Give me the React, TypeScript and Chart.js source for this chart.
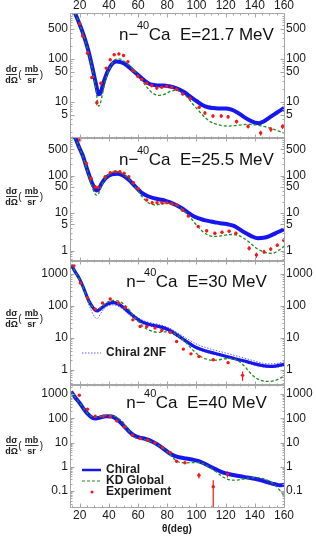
import React, { useEffect, useRef } from "react";
import { Chart, registerables } from "chart.js";

Chart.register(...registerables);

const CANVAS_W = 316;
const CANVAS_H = 539;
const PLOT_LEFT = 71;
const PLOT_RIGHT = 284;
const X_MIN = 14;
const X_MAX = 160;
const X_TICK_LABELS = [20, 40, 60, 80, 100, 120, 140, 160];
const X_TITLE = "θ(deg)";
const FONT = "'Liberation Sans', Arial, Helvetica, sans-serif";

const BLUE = "rgb(22,22,240)";
const BAND_BLUE = "rgb(95,95,255)";
const GREEN = "rgb(34,140,34)";
const RED = "rgb(255,20,20)";
const FRAME = "#a6a6a6";
const TEXT = "#1a1a1a";

// ---------- Panel 1 : E = 21.7 MeV ----------
const p1Energy = "21.7";
const p1YTicks = [5, 10, 50, 100, 500];
const p1ChiralAngle = [14, 15, 17, 20, 23, 26, 29, 31, 33, 34.5, 36, 39, 42, 45, 48, 52, 56, 60, 64, 68, 72, 76, 80, 84, 88, 92, 96, 100, 104, 108, 112, 116, 120, 124, 128, 132, 136, 140, 143, 146, 150, 155, 160];
const p1ChiralValue = [1900, 1500, 1100, 620, 330, 150, 55, 27, 15, 17, 26, 50, 75, 87, 84, 72, 55, 42, 32, 26, 24.5, 24, 23.5, 22, 19.5, 16.5, 13, 10.5, 8.5, 7.5, 7.2, 7.0, 7.0, 6.6, 5.7, 4.6, 3.8, 3.3, 3.2, 3.5, 4.3, 5.6, 7.2];
const p1KdAngle = [14, 15, 17, 20, 23, 26, 29, 31, 33, 34, 35.5, 38, 41, 44, 47, 50, 54, 58, 62, 66, 70, 74, 78, 82, 86, 90, 94, 98, 102, 106, 110, 114, 118, 122, 126, 130, 134, 138, 142, 146, 150, 154, 158, 160];
const p1KdValue = [1900, 1500, 1100, 620, 320, 140, 48, 20, 8, 9, 15, 35, 65, 95, 100, 90, 70, 50, 34, 22, 16, 14.2, 15, 17.5, 18.5, 16.5, 12.5, 8.5, 6.0, 4.3, 3.4, 3.0, 2.8, 2.75, 2.8, 2.9, 3.0, 3.0, 2.85, 2.7, 2.5, 2.25, 2.0, 1.9];
const p1ExpAngle = [20, 22, 25.3, 28.3, 31.7, 34.5, 38.1, 40.9, 43.6, 46.8, 50, 53, 56.4, 59.8, 62.4, 65.9, 69.3, 72.8, 76.2, 79.6, 83, 86.4, 90.5, 95.5, 101.9, 105.8, 111.3, 117, 121.7, 127.5, 135.4, 144, 151, 159];
const p1ExpValue = [650, 340, 135, 37, 9.6, 27, 61, 95, 124, 130, 120, 86, 53, 39, 33, 27, 24, 21, 22, 23, 22, 19.7, 15.3, 12.2, 7.5, 5.5, 4.7, 4.7, 4.5, 3.5, 2.7, 1.9, 2.3, 2.7];
const p1ExpError = [40, 25, 10, 3, 1.2, 2.5, 4, 6, 8, 8, 8, 6, 4, 3, 2.5, 2, 2, 1.6, 1.6, 1.7, 1.6, 1.5, 1.2, 1, 0.7, 0.5, 0.45, 0.45, 0.45, 0.35, 0.3, 0.25, 0.3, 0.35];

// ---------- Panel 2 : E = 25.5 MeV ----------
const p2Energy = "25.5";
const p2YTicks = [1, 5, 10, 50, 100, 500];
const p2ChiralAngle = [14, 15, 17, 20, 22, 24, 26, 28, 30, 31.5, 33, 35, 38, 42, 46, 50, 54, 58, 62, 66, 70, 74, 78, 82, 86, 90, 94, 98, 102, 106, 110, 114, 118, 122, 126, 130, 134, 138, 142, 146, 150, 154, 158, 160];
const p2ChiralValue = [1900, 1400, 1000, 520, 350, 200, 116, 70, 48, 40, 44, 62, 88, 108, 112, 100, 75, 52, 36, 29, 25.5, 23.5, 22, 19.5, 16.5, 13.5, 10.5, 8.3, 7.2, 6.4, 6.0, 5.6, 5.3, 5.0, 4.5, 3.6, 2.9, 2.4, 2.15, 2.2, 2.45, 2.9, 3.4, 3.7];
const p2KdAngle = [14, 15, 17, 20, 22, 24, 26, 28, 30, 31.5, 33, 35, 38, 41, 44, 47, 50, 54, 58, 62, 65, 68, 72, 76, 80, 84, 88, 92, 96, 100, 104, 108, 112, 116, 120, 124, 128, 132, 136, 140, 144, 148, 152, 156, 160];
const p2KdValue = [1900, 1400, 1000, 520, 340, 190, 105, 58, 35, 30, 34, 55, 88, 115, 128, 125, 108, 78, 50, 30, 22, 18, 16.5, 17.5, 18.4, 17.5, 15, 11, 7.5, 4.8, 3.3, 2.6, 2.4, 2.45, 2.6, 2.7, 2.6, 2.2, 1.7, 1.25, 1.0, 0.88, 0.85, 1.0, 1.3];
const p2ExpAngle = [20, 24.5, 27.7, 30.6, 32.5, 37.4, 40.9, 44.3, 47.5, 50.4, 53.6, 56.8, 60, 65.9, 69.6, 73, 76.3, 79.6, 83, 86.4, 90.5, 94.4, 101.2, 107, 112.6, 117.5, 122.4, 127, 136.1, 141.1, 146.3, 150.9, 155.4, 159.8];
const p2ExpValue = [900, 214, 85, 50, 48, 94, 120, 128, 128, 116, 94, 65, 45, 22.5, 19, 19, 19, 19, 18, 16.6, 12, 8.4, 4.4, 3.4, 2.9, 3.1, 3.3, 2.9, 1.16, 0.77, 0.93, 1.1, 1.4, 1.9];
const p2ExpError = [50, 12, 8, 6, 6, 6, 7, 7, 7, 7, 6, 4, 3, 1.5, 1.2, 1.2, 1.2, 1.2, 1.2, 1.1, 0.8, 0.6, 0.4, 0.35, 0.3, 0.3, 0.3, 0.3, 0.15, 0.12, 0.12, 0.13, 0.15, 0.2];

// ---------- Panel 3 : E = 30 MeV ----------
const p3Energy = "30";
const p3YTicks = [1, 10, 100, 1000];
const p3ChiralAngle = [14, 17, 20, 23, 25.3, 28, 30.5, 32, 34, 37, 40, 43, 46, 50, 54, 58, 62, 66, 70, 74, 78, 82, 86, 90, 94, 98, 102, 106, 110, 115, 120, 125, 130, 135, 140, 145, 150, 155, 160];
const p3ChiralValue = [1950, 1150, 680, 330, 180, 105, 75, 70, 80, 102, 120, 128, 118, 90, 62, 44, 33, 28, 25, 23, 20.5, 17, 13, 9.8, 7.3, 5.6, 4.6, 4.0, 3.55, 3.1, 2.7, 2.35, 2.05, 1.8, 1.55, 1.38, 1.3, 1.35, 1.5];
const p3Chiral2nfUpper = [2100, 1250, 720, 360, 200, 120, 85, 80, 90, 112, 130, 138, 128, 98, 70, 50, 38, 32, 29, 26.5, 23.5, 20, 15.5, 12, 9.2, 7.2, 5.9, 5.1, 4.5, 3.9, 3.4, 2.95, 2.55, 2.2, 1.9, 1.65, 1.55, 1.6, 1.8];
const p3Chiral2nfLower = [1800, 1050, 600, 280, 140, 70, 44, 40, 55, 85, 104, 108, 100, 76, 52, 38, 29, 25, 22.5, 20.5, 18, 15, 11.5, 8.6, 6.5, 5.1, 4.2, 3.65, 3.25, 2.85, 2.5, 2.2, 1.9, 1.65, 1.42, 1.27, 1.2, 1.22, 1.35];
const p3KdAngle = [14, 17, 20, 23, 25.3, 28, 30.5, 32, 34, 37, 40, 43, 46, 49, 52, 55, 58, 61, 64, 67, 70, 74, 78, 82, 86, 90, 94, 98, 102, 106, 110, 114, 118, 122, 126, 130, 133, 136, 139, 142, 146, 150, 154, 157, 160];
const p3KdValue = [2000, 1150, 640, 320, 175, 105, 80, 78, 88, 115, 140, 150, 145, 125, 95, 65, 43, 30, 22, 18, 16, 15, 15.5, 15.5, 13, 9.5, 6.3, 4.0, 2.8, 2.25, 2.05, 2.05, 2.2, 2.3, 2.2, 1.75, 1.3, 0.9, 0.65, 0.52, 0.45, 0.44, 0.47, 0.54, 0.65];
const p3ExpAngle = [16, 20.4, 25.3, 30.6, 35.6, 40.9, 46.6, 51.1, 56.4, 61.4, 65.9, 71.6, 76.2, 81.9, 86.4, 91, 96.2, 101.7, 111.5, 121.7, 131.6];
const p3ExpValue = [1800, 520, 180, 80, 124, 166, 124, 90, 37, 23, 23, 20.5, 17.3, 15, 7.8, 4.5, 3.2, 2.65, 2.1, 1.7, 0.68];
const p3ExpError = [90, 25, 10, 5, 7, 9, 7, 5, 2.5, 1.5, 1.5, 1.3, 1.1, 1, 0.6, 0.35, 0.25, 0.2, 0.18, 0.15, 0.22];

// ---------- Panel 4 : E = 40 MeV ----------
const p4Energy = "40";
const p4YTicks = [0.1, 1, 10, 100, 1000];
const p4ChiralAngle = [14, 17, 20, 23, 26, 28.5, 31, 34, 38, 42, 46, 50, 54, 57, 61, 65, 69, 73, 77, 81, 85, 89, 93, 97, 101, 105, 109, 113, 117, 121, 125, 130, 135, 140, 145, 150, 154, 157, 160];
const p4ChiralValue = [1250, 700, 420, 230, 140, 105, 98, 108, 120, 118, 85, 50, 28, 20, 16, 14, 11.5, 8.5, 5.8, 3.8, 2.8, 2.4, 2.2, 2.0, 1.75, 1.4, 1.05, 0.8, 0.62, 0.52, 0.46, 0.41, 0.36, 0.32, 0.27, 0.22, 0.19, 0.175, 0.18];
const p4KdAngle = [14, 17, 20, 23, 26, 28.5, 31, 34, 38, 42, 46, 50, 53, 56, 59, 63, 67, 71, 75, 79, 83, 86, 89, 93, 97, 101, 105, 109, 113, 117, 121, 125, 129, 133, 137, 141, 145, 149, 153, 157, 160];
const p4KdValue = [1250, 700, 430, 240, 150, 115, 110, 118, 128, 130, 105, 65, 35, 20, 15, 13.5, 12, 9.5, 7, 4.8, 2.7, 1.8, 1.5, 1.45, 1.5, 1.5, 1.3, 0.95, 0.65, 0.42, 0.31, 0.28, 0.29, 0.32, 0.35, 0.36, 0.33, 0.27, 0.19, 0.11, 0.065];
const p4ExpAngle = [19.7, 25.3, 30.6, 36, 40.9, 45.4, 50.6, 56.1, 61.4, 66.6, 71.6, 76.8, 81.9, 86.4, 92.1, 101.7, 111.5, 121.3];
const p4ExpValue = [890, 235, 122, 122, 115, 78, 44, 20, 14.7, 12.5, 9.7, 6.3, 3.9, 1.7, 1.46, 0.45, 0.15, 0.5];
const p4ExpError = [45, 12, 7, 7, 7, 5, 3, 1.4, 1, 0.9, 0.7, 0.45, 0.3, 0.15, 0.12, 0.12, 0.13, 0.14];

const LEGEND_CHIRAL = "Chiral";
const LEGEND_KD = "KD Global";
const LEGEND_EXP = "Experiment";
const LEGEND_2NF = "Chiral 2NF";

type Panel = {
  energy: string;
  top: number;
  bottom: number;
  yMin: number;
  yMax: number;
  yTicks: number[];
  chiral: [number[], number[]];
  kd: [number[], number[]];
  exp: [number[], number[], number[]];
  band?: [number[], number[], number[]];
  titleBaseline: number;
  fracY: number;
  topLabels: boolean;
  bottomLabels: boolean;
  legend: "none" | "band" | "main";
};

const PANELS: Panel[] = [
  {
    energy: p1Energy, top: 14, bottom: 138, yMin: 1.45, yMax: 1100, yTicks: p1YTicks,
    chiral: [p1ChiralAngle, p1ChiralValue], kd: [p1KdAngle, p1KdValue],
    exp: [p1ExpAngle, p1ExpValue, p1ExpError],
    titleBaseline: 40, fracY: 74, topLabels: true, bottomLabels: false, legend: "none",
  },
  {
    energy: p2Energy, top: 138, bottom: 261, yMin: 0.53, yMax: 1010, yTicks: p2YTicks,
    chiral: [p2ChiralAngle, p2ChiralValue], kd: [p2KdAngle, p2KdValue],
    exp: [p2ExpAngle, p2ExpValue, p2ExpError],
    titleBaseline: 165, fracY: 196, topLabels: false, bottomLabels: false, legend: "none",
  },
  {
    energy: p3Energy, top: 261, bottom: 385, yMin: 0.34, yMax: 2550, yTicks: p3YTicks,
    chiral: [p3ChiralAngle, p3ChiralValue], kd: [p3KdAngle, p3KdValue],
    exp: [p3ExpAngle, p3ExpValue, p3ExpError],
    band: [p3ChiralAngle, p3Chiral2nfUpper, p3Chiral2nfLower],
    titleBaseline: 287, fracY: 318, topLabels: false, bottomLabels: false, legend: "band",
  },
  {
    energy: p4Energy, top: 385, bottom: 507, yMin: 0.022, yMax: 2350, yTicks: p4YTicks,
    chiral: [p4ChiralAngle, p4ChiralValue], kd: [p4KdAngle, p4KdValue],
    exp: [p4ExpAngle, p4ExpValue, p4ExpError],
    titleBaseline: 408, fracY: 445, topLabels: false, bottomLabels: true, legend: "main",
  },
];

function toPoints(xs: number[], ys: number[]) {
  return xs.map((x, i) => ({ x, y: ys[i] }));
}

function fmt(v: number) {
  return v < 1 ? String(v) : String(Math.round(v));
}

function drawFraction(ctx: CanvasRenderingContext2D, cy: number) {
  ctx.save();
  ctx.fillStyle = TEXT;
  ctx.strokeStyle = TEXT;
  ctx.textAlign = "center";
  ctx.textBaseline = "alphabetic";
  ctx.font = `bold 9px ${FONT}`;
  ctx.fillText("dσ", 11.5, cy - 2);
  ctx.fillText("dΩ", 11.5, cy + 8.5);
  ctx.fillText("mb", 31.5, cy - 2);
  ctx.fillText("sr", 31.5, cy + 8.5);
  ctx.lineWidth = 0.9;
  ctx.beginPath();
  ctx.moveTo(6, cy + 0.5);
  ctx.lineTo(17, cy + 0.5);
  ctx.moveTo(25, cy + 0.5);
  ctx.lineTo(38.5, cy + 0.5);
  ctx.stroke();
  ctx.font = `10px ${FONT}`;
  ctx.fillText("(", 20, cy + 3.5);
  ctx.fillText(")", 41.5, cy + 3.5);
  ctx.restore();
}

function drawTitle(ctx: CanvasRenderingContext2D, energy: string, baseline: number) {
  const big = `17px ${FONT}`;
  const sup = `11px ${FONT}`;
  const a = "n\u2212";
  const s = "40";
  const b = `Ca  E=${energy} MeV`;
  ctx.save();
  ctx.fillStyle = "#111";
  ctx.textAlign = "left";
  ctx.textBaseline = "alphabetic";
  ctx.font = big;
  const wa = ctx.measureText(a).width - 1.5;
  const wb = ctx.measureText(b).width;
  ctx.font = sup;
  const ws = ctx.measureText(s).width - 0.5;
  const total = wa + ws + wb;
  let x = 196.5 - total / 2;
  ctx.font = big;
  ctx.fillText(a, x, baseline);
  x += wa;
  ctx.font = sup;
  ctx.fillText(s, x, baseline - 11);
  x += ws;
  ctx.font = big;
  ctx.fillText(b, x, baseline);
  ctx.restore();
}

function makeDeco(p: Panel) {
  return {
    id: "panelDeco",
    beforeDatasetsDraw(chart: any) {
      const { ctx, chartArea: a, scales } = chart;
      const xs = scales.x;
      const ys = scales.y;
      ctx.save();
      ctx.beginPath();
      ctx.rect(a.left, a.top, a.right - a.left, a.bottom - a.top);
      ctx.clip();
      ctx.strokeStyle = RED;
      ctx.lineWidth = 1.2;
      const [ang, val, err] = p.exp;
      ctx.beginPath();
      for (let i = 0; i < ang.length; i++) {
        const x = xs.getPixelForValue(ang[i]);
        const lo = Math.max(val[i] - err[i], p.yMin * 0.5);
        const y1 = ys.getPixelForValue(lo);
        const y2 = ys.getPixelForValue(val[i] + err[i]);
        ctx.moveTo(x, y1);
        ctx.lineTo(x, y2);
      }
      ctx.stroke();
      ctx.restore();
    },
    afterDraw(chart: any) {
      const { ctx, chartArea: a, scales } = chart;
      const xs = scales.x;
      const ys = scales.y;
      ctx.save();
      // frame
      ctx.strokeStyle = FRAME;
      ctx.lineWidth = 1;
      const L = a.left - 0.5, R = a.right + 0.5, T = a.top - 0.5, B = a.bottom + 0.5;
      ctx.beginPath();
      ctx.rect(L, T, R - L, B - T);
      ctx.stroke();
      // x ticks
      ctx.beginPath();
      for (let v = 15; v <= X_MAX; v += 5) {
        const px = Math.round(xs.getPixelForValue(v)) + 0.5;
        const len = v % 20 === 0 ? 4 : 2;
        ctx.moveTo(px, T);
        ctx.lineTo(px, T + len);
        ctx.moveTo(px, B);
        ctx.lineTo(px, B - len);
      }
      // y ticks
      const e0 = Math.floor(Math.log10(p.yMin));
      const e1 = Math.ceil(Math.log10(p.yMax));
      for (let e = e0; e <= e1; e++) {
        for (let d = 1; d <= 9; d++) {
          const v = d * Math.pow(10, e);
          if (v < p.yMin || v > p.yMax) continue;
          const major = p.yTicks.some((t) => Math.abs(t - v) / v < 1e-6);
          const len = major ? 4 : 2;
          const py = Math.round(ys.getPixelForValue(v)) + 0.5;
          ctx.moveTo(L, py);
          ctx.lineTo(L + len, py);
          ctx.moveTo(R, py);
          ctx.lineTo(R - len, py);
        }
      }
      ctx.stroke();

      // tick labels
      ctx.fillStyle = TEXT;
      ctx.font = `12px ${FONT}`;
      ctx.textBaseline = "middle";
      for (const t of p.yTicks) {
        const py = ys.getPixelForValue(t);
        ctx.textAlign = "right";
        ctx.fillText(fmt(t), a.left - 3, py);
        ctx.textAlign = "left";
        ctx.fillText(fmt(t), a.right + 2, py);
      }
      ctx.textAlign = "center";
      for (const t of X_TICK_LABELS) {
        const px = xs.getPixelForValue(t);
        if (p.topLabels) ctx.fillText(String(t), px, a.top - 8);
        if (p.bottomLabels) ctx.fillText(String(t), px, a.bottom + 9);
      }
      if (p.bottomLabels) {
        ctx.font = `bold 10px ${FONT}`;
        ctx.fillText(X_TITLE, 177, 529);
      }

      drawFraction(ctx, p.fracY);
      drawTitle(ctx, p.energy, p.titleBaseline);

      // legends
      ctx.textAlign = "left";
      ctx.textBaseline = "middle";
      ctx.font = `bold 12px ${FONT}`;
      if (p.legend === "band") {
        const y = 353;
        ctx.strokeStyle = BAND_BLUE;
        ctx.lineWidth = 1.2;
        ctx.setLineDash([1.5, 1.5]);
        ctx.beginPath();
        ctx.moveTo(82, y);
        ctx.lineTo(101, y);
        ctx.stroke();
        ctx.setLineDash([]);
        ctx.fillStyle = TEXT;
        ctx.fillText(LEGEND_2NF, 106, y);
      }
      if (p.legend === "main") {
        const rows = [470, 481, 492];
        ctx.strokeStyle = BLUE;
        ctx.lineWidth = 2.5;
        ctx.beginPath();
        ctx.moveTo(82, rows[0]);
        ctx.lineTo(101, rows[0]);
        ctx.stroke();
        ctx.strokeStyle = GREEN;
        ctx.lineWidth = 1.2;
        ctx.setLineDash([3, 2]);
        ctx.beginPath();
        ctx.moveTo(82, rows[1]);
        ctx.lineTo(101, rows[1]);
        ctx.stroke();
        ctx.setLineDash([]);
        ctx.fillStyle = RED;
        ctx.beginPath();
        ctx.arc(92, rows[2], 1.5, 0, Math.PI * 2);
        ctx.fill();
        ctx.fillStyle = TEXT;
        ctx.fillText(LEGEND_CHIRAL, 106, rows[0]);
        ctx.fillText(LEGEND_KD, 106, rows[1]);
        ctx.fillText(LEGEND_EXP, 106, rows[2]);
      }
      ctx.restore();
    },
  };
}

function PanelChart({ panel }: { panel: Panel }) {
  const ref = useRef<HTMLCanvasElement | null>(null);
  useEffect(() => {
    if (!ref.current) return;
    const line = (data: any, color: string, width: number, dash: number[]) => ({
      type: "line",
      data,
      borderColor: color,
      backgroundColor: color,
      borderWidth: width,
      borderDash: dash,
      pointRadius: 0,
      fill: false,
      cubicInterpolationMode: "monotone",
      clip: 0,
    });
    const datasets: any[] = [
      {
        type: "line",
        data: toPoints(panel.exp[0], panel.exp[1]),
        showLine: false,
        pointRadius: 1.7,
        pointBorderWidth: 0,
        pointBackgroundColor: RED,
        borderColor: RED,
        backgroundColor: RED,
        clip: 0,
      },
      line(toPoints(panel.kd[0], panel.kd[1]), GREEN, 1.3, [3, 2]),
      line(toPoints(panel.chiral[0], panel.chiral[1]), BLUE, panel.band ? 3.2 : 4, []),
    ];
    if (panel.band) {
      datasets.push(line(toPoints(panel.band[0], panel.band[1]), BAND_BLUE, 1, [1.5, 1.5]));
      datasets.push(line(toPoints(panel.band[0], panel.band[2]), BAND_BLUE, 1, [1.5, 1.5]));
    }
    const chart = new Chart(ref.current, {
      type: "line",
      data: { datasets },
      options: {
        animation: false,
        responsive: false,
        maintainAspectRatio: false,
        events: [],
        layout: {
          padding: {
            left: PLOT_LEFT,
            right: CANVAS_W - PLOT_RIGHT,
            top: panel.top,
            bottom: CANVAS_H - panel.bottom,
          },
        },
        plugins: { legend: { display: false }, tooltip: { enabled: false } },
        scales: {
          x: { type: "linear", min: X_MIN, max: X_MAX, display: false, bounds: "data" },
          y: { type: "logarithmic", min: panel.yMin, max: panel.yMax, display: false, bounds: "data" },
        },
      } as any,
      plugins: [makeDeco(panel)],
    } as any);
    return () => chart.destroy();
  }, [panel]);
  return (
    <canvas
      ref={ref}
      width={CANVAS_W}
      height={CANVAS_H}
      style={{ position: "absolute", left: 0, top: 0, width: CANVAS_W, height: CANVAS_H }}
    />
  );
}

export default function App() {
  return (
    <div
      style={{
        position: "absolute",
        left: 0,
        top: 0,
        width: CANVAS_W,
        height: CANVAS_H,
        background: "#fff",
        overflow: "hidden",
      }}
    >
      {PANELS.map((p, i) => (
        <PanelChart key={i} panel={p} />
      ))}
    </div>
  );
}
